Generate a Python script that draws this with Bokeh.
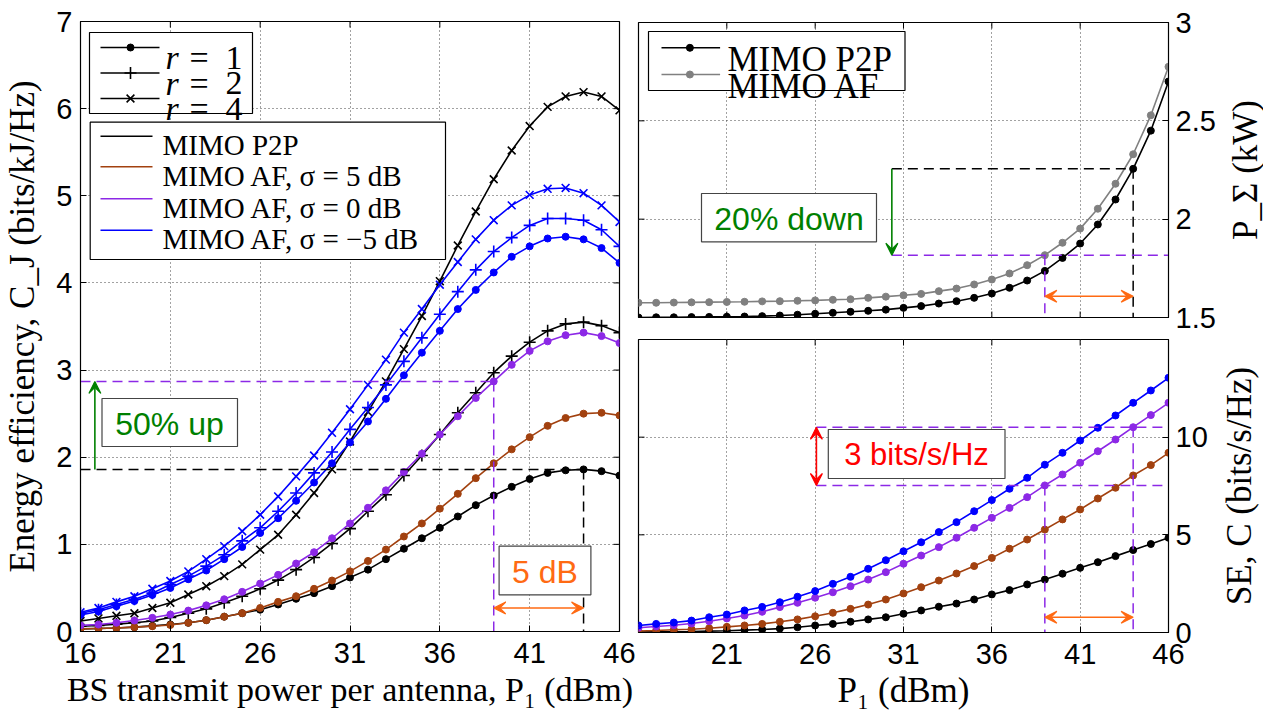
import math
from bokeh.plotting import figure
from bokeh.layouts import row, column
from bokeh.models import Range1d, FixedTicker, Label, Arrow, VeeHead
from bokeh.embed import file_html
from bokeh.resources import INLINE

# ---------------- data ----------------
P1_DBM = [16, 17, 18, 19, 20, 21, 22, 23, 24, 25, 26, 27, 28, 29, 30, 31,
          32, 33, 34, 35, 36, 37, 38, 39, 40, 41, 42, 43, 44, 45, 46]

# Energy efficiency (bits/kJ/Hz)
EE_P2P_R1 = [0.03, 0.035, 0.04, 0.05, 0.065, 0.08, 0.10, 0.13, 0.17, 0.21, 0.25, 0.31, 0.375, 0.44, 0.52, 0.62,
             0.71, 0.83, 0.95, 1.07, 1.19, 1.32, 1.45, 1.56, 1.66, 1.75, 1.82, 1.85, 1.86, 1.84, 1.79]
EE_P2P_R2 = [0.06, 0.07, 0.085, 0.10, 0.12, 0.16, 0.21, 0.26, 0.33, 0.405, 0.49, 0.59, 0.71, 0.85, 1.01, 1.18,
             1.38, 1.57, 1.79, 2.02, 2.26, 2.51, 2.74, 2.97, 3.16, 3.32, 3.45, 3.53, 3.55, 3.51, 3.43]
EE_P2P_R4 = [0.12, 0.15, 0.18, 0.21, 0.27, 0.33, 0.425, 0.52, 0.635, 0.77, 0.94, 1.11, 1.34, 1.59, 1.86, 2.18,
             2.52, 2.87, 3.24, 3.62, 4.02, 4.43, 4.82, 5.19, 5.52, 5.80, 6.02, 6.14, 6.19, 6.14, 5.98]
EE_AF_S5 = [0.03, 0.035, 0.04, 0.05, 0.06, 0.075, 0.10, 0.13, 0.17, 0.21, 0.27, 0.34, 0.405, 0.49, 0.585, 0.69,
            0.81, 0.94, 1.09, 1.24, 1.41, 1.58, 1.76, 1.93, 2.09, 2.23, 2.36, 2.45, 2.50, 2.51, 2.48]
EE_AF_S0 = [0.07, 0.08, 0.10, 0.126, 0.157, 0.195, 0.24, 0.30, 0.37, 0.455, 0.55, 0.65, 0.78, 0.91, 1.07, 1.24,
            1.42, 1.62, 1.83, 2.04, 2.26, 2.47, 2.68, 2.87, 3.06, 3.22, 3.33, 3.40, 3.43, 3.39, 3.31]
EE_AF_SM5_R1 = [0.19, 0.23, 0.29, 0.35, 0.42, 0.50, 0.60, 0.70, 0.83, 0.97, 1.13, 1.30, 1.50, 1.71, 1.93, 2.17,
                2.41, 2.67, 2.94, 3.20, 3.45, 3.70, 3.92, 4.12, 4.30, 4.42, 4.51, 4.53, 4.50, 4.40, 4.23]
EE_AF_SM5_R2 = [0.21, 0.25, 0.31, 0.37, 0.44, 0.54, 0.635, 0.75, 0.88, 1.04, 1.19, 1.38, 1.59, 1.82, 2.06, 2.32,
                2.57, 2.83, 3.10, 3.37, 3.64, 3.90, 4.15, 4.36, 4.52, 4.66, 4.74, 4.74, 4.72, 4.61, 4.42]
EE_AF_SM5_R4 = [0.22, 0.27, 0.34, 0.405, 0.49, 0.58, 0.69, 0.83, 0.98, 1.15, 1.34, 1.55, 1.78, 2.02, 2.28, 2.55,
                2.83, 3.12, 3.43, 3.70, 3.98, 4.24, 4.50, 4.72, 4.89, 5.01, 5.08, 5.09, 5.03, 4.89, 4.70]

# Total power P_Sigma (kW)
PW_P2P = [1.500, 1.501, 1.501, 1.502, 1.503, 1.504, 1.505, 1.507, 1.510, 1.514, 1.519, 1.524, 1.529, 1.534, 1.540, 1.549,
          1.558, 1.571, 1.583, 1.600, 1.622, 1.651, 1.688, 1.737, 1.803, 1.876, 1.973, 2.100, 2.256, 2.450, 2.700]
PW_AF = [1.575, 1.575, 1.576, 1.577, 1.578, 1.579, 1.580, 1.582, 1.583, 1.585, 1.587, 1.590, 1.593, 1.600, 1.606, 1.613,
         1.620, 1.634, 1.647, 1.668, 1.693, 1.724, 1.766, 1.817, 1.880, 1.952, 2.053, 2.180, 2.330, 2.528, 2.775]

# Spectral efficiency C (bits/s/Hz)
SE_P2P = [0.02, 0.03, 0.04, 0.05, 0.07, 0.09, 0.12, 0.15, 0.20, 0.27, 0.36, 0.44, 0.55, 0.67, 0.78, 0.96,
          1.13, 1.32, 1.48, 1.69, 1.95, 2.17, 2.46, 2.71, 3.01, 3.31, 3.60, 3.91, 4.22, 4.53, 4.85]
SE_AF_S5 = [0.08, 0.10, 0.14, 0.17, 0.22, 0.29, 0.36, 0.44, 0.55, 0.67, 0.83, 1.01, 1.21, 1.43, 1.69, 2.00,
            2.32, 2.66, 3.02, 3.40, 3.82, 4.29, 4.76, 5.27, 5.79, 6.30, 6.86, 7.41, 8.04, 8.57, 9.20]
SE_AF_S0 = [0.24, 0.31, 0.37, 0.46, 0.58, 0.72, 0.87, 1.06, 1.30, 1.52, 1.78, 2.06, 2.37, 2.71, 3.09, 3.52,
            3.94, 4.37, 4.85, 5.36, 5.87, 6.38, 6.93, 7.53, 8.09, 8.69, 9.28, 9.88, 10.51, 11.13, 11.76]
SE_AF_SM5 = [0.36, 0.44, 0.51, 0.61, 0.78, 0.92, 1.13, 1.31, 1.55, 1.83, 2.12, 2.49, 2.85, 3.26, 3.70, 4.16,
             4.62, 5.14, 5.65, 6.21, 6.78, 7.36, 7.92, 8.59, 9.20, 9.83, 10.48, 11.11, 11.76, 12.39, 13.04]

X_TICKS = [16, 21, 26, 31, 36, 41, 46]
X_TICKS_R = [21, 26, 31, 36, 41, 46]
EE_TICKS = [0, 1, 2, 3, 4, 5, 6, 7]
PW_TICKS = [1.5, 2, 2.5, 3]
SE_TICKS = [0, 5, 10]
SE_TICKS_ALL = [0, 5, 10, 15]

R_LABELS = ["1", "2", "4"]
MIMO_LABELS = ["MIMO P2P", "MIMO AF, σ = 5 dB", "MIMO AF, σ = 0 dB", "MIMO AF, σ = −5 dB"]
PW_LABELS = ["MIMO P2P", "MIMO AF"]

XLABEL_LEFT = "BS transmit power per antenna, P₁ (dBm)"
XLABEL_RIGHT = "P₁ (dBm)"
YLABEL_EE = "Energy efficiency, C_J (bits/kJ/Hz)"
YLABEL_PW = "P_Σ (kW)"
YLABEL_SE = "SE, C (bits/s/Hz)"

# ---------------- style ----------------
BLACK = "#000000"
BROWN = "#A2410F"
PURPLE = "#8C28E6"
BLUE = "#0000FF"
GRAY = "#808080"
GREEN = "#008000"
ORANGE = "#FF6A13"
RED = "#FF0000"
SERIF = "Liberation Serif"
SANS = "Liberation Sans"
LW = 1.6
DASH = "10 6"
TICK_PX = 6


class PxMap:
    def __init__(self, x0, x1, px0, px1, y0, y1, py0, py1):
        self.a = (x0, x1, px0, px1)
        self.b = (y0, y1, py0, py1)

    def x(self, px):
        x0, x1, p0, p1 = self.a
        return x0 + (px - p0) * (x1 - x0) / (p1 - p0)

    def y(self, py):
        y0, y1, p0, p1 = self.b
        return y0 + (py - p0) * (y1 - y0) / (p1 - p0)

    def dx(self, npx):
        x0, x1, p0, p1 = self.a
        return npx * (x1 - x0) / (p1 - p0)

    def dy(self, npx):
        y0, y1, p0, p1 = self.b
        return npx * abs((y1 - y0) / (p1 - p0))


def label(p, m, px, py, text, size, color=BLACK, font=SERIF, style="normal",
          align="left", baseline="alphabetic"):
    p.add_layout(Label(x=m.x(px), y=m.y(py), text=text, text_font=font,
                       text_font_size=f"{size}px", text_font_style=style, text_color=color,
                       text_align=align, text_baseline=baseline))


def style_axis(ax, ticks, standoff, overrides=None, label_size="35px"):
    ax.ticker = FixedTicker(ticks=ticks)
    ax.major_label_text_font = SANS
    ax.major_label_text_font_size = "29px"
    ax.major_label_text_color = BLACK
    ax.major_tick_in = TICK_PX
    ax.major_tick_out = 0
    ax.minor_tick_in = 0
    ax.minor_tick_out = 0
    ax.axis_line_color = BLACK
    ax.major_tick_line_color = BLACK
    ax.major_label_standoff = standoff
    ax.axis_label_text_font = SERIF
    ax.axis_label_text_font_size = label_size
    ax.axis_label_text_font_style = "normal"
    ax.axis_label_text_color = BLACK
    if overrides:
        ax.major_label_overrides = overrides


def mirror_ticks(p, m, xr, yr, xticks, yticks, sides):
    """Inward tick marks on the frame edges that carry no axis (MATLAB box style)."""
    x0s, y0s, x1s, y1s = [], [], [], []
    for t in xticks:
        if "top" in sides:
            x0s.append(t); y0s.append(yr[1]); x1s.append(t); y1s.append(yr[1] - m.dy(TICK_PX))
        if "bottom" in sides:
            x0s.append(t); y0s.append(yr[0]); x1s.append(t); y1s.append(yr[0] + m.dy(TICK_PX))
    for t in yticks:
        if "right" in sides:
            x0s.append(xr[1]); y0s.append(t); x1s.append(xr[1] - m.dx(TICK_PX)); y1s.append(t)
        if "left" in sides:
            x0s.append(xr[0]); y0s.append(t); x1s.append(xr[0] + m.dx(TICK_PX)); y1s.append(t)
    p.segment(x0=x0s, y0=y0s, x1=x1s, y1=y1s, line_color=BLACK, line_width=1)


def style_grid(g, ticks):
    g.ticker = FixedTicker(ticks=ticks)
    g.grid_line_color = "#444444"
    g.grid_line_dash = "1 3"
    g.grid_line_width = 1


def base_fig(xr, yr, fw, fh, **kw):
    p = figure(x_range=Range1d(*xr), y_range=Range1d(*yr), frame_width=fw, frame_height=fh,
               output_backend="svg", toolbar_location=None, title=None, **kw)
    p.outline_line_color = BLACK
    p.outline_line_width = 1.2
    p.background_fill_color = "white"
    p.border_fill_color = "white"
    return p


def label_strip(text, frame_h, top, bottom, border_left, standoff):
    """Narrow figure that only carries a y-axis title reading bottom-to-top."""
    p = figure(x_range=Range1d(0, 1), y_range=Range1d(0, 1), frame_width=1, frame_height=frame_h,
               min_border_left=border_left, min_border_right=0, min_border_top=top,
               min_border_bottom=bottom, x_axis_location=None, y_axis_location="left",
               output_backend="svg", toolbar_location=None, title=None)
    p.outline_line_color = None
    p.xgrid.visible = False
    p.ygrid.visible = False
    p.background_fill_color = "white"
    p.border_fill_color = "white"
    ax = p.yaxis[0]
    ax.ticker = FixedTicker(ticks=[])
    ax.major_tick_in = 0
    ax.major_tick_out = 0
    ax.minor_tick_in = 0
    ax.minor_tick_out = 0
    ax.major_label_standoff = 0
    ax.axis_line_color = None
    ax.axis_label = text
    ax.axis_label_standoff = standoff
    ax.axis_label_text_font = SERIF
    ax.axis_label_text_font_size = "35px"
    ax.axis_label_text_font_style = "normal"
    ax.axis_label_text_color = BLACK
    return p


def curve(p, x, y, color, marker, size):
    p.line(x, y, line_color=color, line_width=LW)
    if marker == "dot":
        p.scatter(x, y, marker="circle", size=size, fill_color=color, line_color=color)
    else:
        p.scatter(x, y, marker=marker, size=size, line_color=color, line_width=LW, fill_color=None)


def box(p, m, px0, px1, py0, py1, color="#444444"):
    p.quad(left=m.x(px0), right=m.x(px1), top=m.y(py0), bottom=m.y(py1),
           fill_color="white", line_color=color, line_width=1.2)


def arrow(p, x0, y0, x1, y1, color, both=False):
    kw = dict(end=VeeHead(size=12, line_color=color, fill_color=color, line_width=1.2))
    if both:
        kw["start"] = VeeHead(size=12, line_color=color, fill_color=color, line_width=1.2)
    else:
        kw["start"] = None
    p.add_layout(Arrow(x_start=x0, y_start=y0, x_end=x1, y_end=y1, line_color=color,
                       line_width=1.6, **kw))


i39 = P1_DBM.index(39)
i44 = P1_DBM.index(44)

# ================= left: energy efficiency =================
XR_L, YR_L = (16, 46), (0, 7)
L = base_fig(XR_L, YR_L, 539, 610, min_border_left=80, min_border_right=18,
             min_border_top=21, min_border_bottom=80)
mL = PxMap(16, 46, 81, 620, 0, 7, 632, 22)
style_axis(L.xaxis[0], X_TICKS, 11, label_size="34px")
style_axis(L.yaxis[0], EE_TICKS, 8)
L.xaxis[0].axis_label = XLABEL_LEFT
L.xaxis[0].axis_label_standoff = 5
L.yaxis[0].axis_label = YLABEL_EE
L.yaxis[0].axis_label_standoff = 11
style_grid(L.xgrid[0], X_TICKS)
style_grid(L.ygrid[0], EE_TICKS)
mirror_ticks(L, mL, XR_L, YR_L, X_TICKS, EE_TICKS, ("top", "right"))

curve(L, P1_DBM, EE_P2P_R1, BLACK, "dot", 7)
curve(L, P1_DBM, EE_P2P_R2, BLACK, "cross", 12)
curve(L, P1_DBM, EE_P2P_R4, BLACK, "x", 11)
curve(L, P1_DBM, EE_AF_S5, BROWN, "dot", 7)
curve(L, P1_DBM, EE_AF_S0, PURPLE, "dot", 7)
curve(L, P1_DBM, EE_AF_SM5_R1, BLUE, "dot", 7)
curve(L, P1_DBM, EE_AF_SM5_R2, BLUE, "cross", 12)
curve(L, P1_DBM, EE_AF_SM5_R4, BLUE, "x", 11)

# reference lines
ipk = EE_P2P_R1.index(max(EE_P2P_R1))
x_pk, y_pk = P1_DBM[ipk], EE_P2P_R1[ipk]
x_af, y_af = P1_DBM[i39], EE_AF_S0[i39]
L.line([16, x_pk], [y_pk, y_pk], line_color=BLACK, line_width=1.5, line_dash=DASH)
L.line([x_pk, x_pk], [y_pk, 0], line_color=BLACK, line_width=1.5, line_dash=DASH)
L.line([16, x_af], [y_af, y_af], line_color=PURPLE, line_width=1.5, line_dash=DASH)
L.line([x_af, x_af], [y_af, 0], line_color=PURPLE, line_width=1.5, line_dash=DASH)
arrow(L, 16.8, y_pk, 16.8, y_af, GREEN)
arrow(L, x_af, 0.27, x_pk, 0.27, ORANGE, both=True)
box(L, mL, 102.5, 238, 399, 447)
label(L, mL, 170, 424, "50% up", 32, color=GREEN, font=SANS, align="center", baseline="middle")
box(L, mL, 499.6, 591.4, 546.7, 595.3)
label(L, mL, 545.5, 572, "5 dB", 32, color=ORANGE, font=SANS, align="center", baseline="middle")

# legend: r markers
box(L, mL, 90, 253, 33, 114, color=BLACK)
for (lab_txt, mk, sz), ry in zip(zip(R_LABELS, ["dot", "cross", "x"], [7, 12, 11]), [48, 73.5, 99]):
    L.line([mL.x(101), mL.x(160)], [mL.y(ry), mL.y(ry)], line_color=BLACK, line_width=LW)
    if mk == "dot":
        L.scatter([mL.x(131)], [mL.y(ry)], marker="circle", size=sz, fill_color=BLACK, line_color=BLACK)
    else:
        L.scatter([mL.x(131)], [mL.y(ry)], marker=mk, size=sz, line_color=BLACK, line_width=LW)
    label(L, mL, 166, ry + 10, "r", 34, style="italic")
    label(L, mL, 190, ry + 10, "=", 34)
    label(L, mL, 226, ry + 10, lab_txt, 34)

# legend: schemes
box(L, mL, 90.7, 446, 122.7, 260, color=BLACK)
for txt, col, ry in zip(MIMO_LABELS, [BLACK, BROWN, PURPLE, BLUE], [136.7, 167.3, 199.3, 230.7]):
    L.line([mL.x(101), mL.x(153)], [mL.y(ry), mL.y(ry)], line_color=col, line_width=LW)
    label(L, mL, 163, ry + 9, txt, 29)

# ================= top right: total power =================
XR_T, YR_T = (16, 46), (1.5, 3)
TR = base_fig(XR_T, YR_T, 530, 295, min_border_left=1, min_border_right=48,
              min_border_top=22, min_border_bottom=18, x_axis_location=None, y_axis_location="right")
mT = PxMap(16, 46, 639, 1169, 1.5, 3, 318, 23)
style_axis(TR.yaxis[0], PW_TICKS, 7, {1.5: "1.5", 2: "2", 2.5: "2.5", 3: "3"})
style_grid(TR.xgrid[0], X_TICKS)
style_grid(TR.ygrid[0], PW_TICKS)
mirror_ticks(TR, mT, XR_T, YR_T, X_TICKS, PW_TICKS, ("top", "bottom", "left"))

curve(TR, P1_DBM, PW_AF, GRAY, "dot", 7)
curve(TR, P1_DBM, PW_P2P, BLACK, "dot", 7)

y_b = PW_P2P[i44]
y_g = PW_AF[i39]
x_arrow = 30.34
TR.line([x_arrow, P1_DBM[i44]], [y_b, y_b], line_color=BLACK, line_width=1.5, line_dash=DASH)
TR.line([P1_DBM[i44], P1_DBM[i44]], [y_b, 1.5], line_color=BLACK, line_width=1.5, line_dash=DASH)
TR.line([x_arrow, 46], [y_g, y_g], line_color=PURPLE, line_width=1.5, line_dash=DASH)
TR.line([P1_DBM[i39], P1_DBM[i39]], [y_g, 1.5], line_color=PURPLE, line_width=1.5, line_dash=DASH)
arrow(TR, x_arrow, y_b, x_arrow, y_g, GREEN)
arrow(TR, P1_DBM[i39], 1.608, P1_DBM[i44], 1.608, ORANGE, both=True)
box(TR, mT, 702, 877, 194, 242.3)
label(TR, mT, 789.5, 219, "20% down", 32, color=GREEN, font=SANS, align="center", baseline="middle")

box(TR, mT, 649, 905.5, 32, 91, color=BLACK)
for txt, col, ry in zip(PW_LABELS, [BLACK, GRAY], [48.3, 75]):
    TR.line([mT.x(662), mT.x(720.6)], [mT.y(ry), mT.y(ry)], line_color=col, line_width=LW)
    TR.scatter([mT.x(690.4)], [mT.y(ry)], marker="circle", size=7, fill_color=col, line_color=col)
    label(TR, mT, 728, ry + 12, txt, 35)

TRL = label_strip(YLABEL_PW, 295, 22, 18, 44, -2)

# ================= bottom right: spectral efficiency =================
XR_B, YR_B = (16, 46), (0, 15)
BR = base_fig(XR_B, YR_B, 530, 293, min_border_left=1, min_border_right=48,
              min_border_top=4, min_border_bottom=79, y_axis_location="right")
mB = PxMap(16, 46, 639, 1169, 0, 15, 633, 340)
style_axis(BR.xaxis[0], X_TICKS_R, 11)
style_axis(BR.yaxis[0], SE_TICKS, 7)
BR.yaxis[0].ticker = FixedTicker(ticks=SE_TICKS_ALL)
BR.yaxis[0].major_label_overrides = {15: ""}
BR.xaxis[0].axis_label = XLABEL_RIGHT
BR.xaxis[0].axis_label_standoff = 4
style_grid(BR.xgrid[0], X_TICKS)
style_grid(BR.ygrid[0], SE_TICKS_ALL)
mirror_ticks(BR, mB, XR_B, YR_B, X_TICKS, SE_TICKS_ALL, ("top", "left"))

curve(BR, P1_DBM, SE_P2P, BLACK, "dot", 7)
curve(BR, P1_DBM, SE_AF_S5, BROWN, "dot", 7)
curve(BR, P1_DBM, SE_AF_S0, PURPLE, "dot", 7)
curve(BR, P1_DBM, SE_AF_SM5, BLUE, "dot", 7)

y_u = SE_AF_S0[i44]
y_l = SE_AF_S0[i39]
x_red = 26.07
BR.line([x_red, 46], [y_u, y_u], line_color=PURPLE, line_width=1.5, line_dash=DASH)
BR.line([x_red, 46], [y_l, y_l], line_color=PURPLE, line_width=1.5, line_dash=DASH)
BR.line([P1_DBM[i39], P1_DBM[i39]], [y_l, 0], line_color=PURPLE, line_width=1.5, line_dash=DASH)
BR.line([P1_DBM[i44], P1_DBM[i44]], [y_u, 0], line_color=PURPLE, line_width=1.5, line_dash=DASH)
arrow(BR, x_red, y_l, x_red, y_u, RED, both=True)
arrow(BR, P1_DBM[i39], 0.78, P1_DBM[i44], 0.78, ORANGE, both=True)
box(BR, mB, 828.8, 1005.5, 430, 479)
label(BR, mB, 917, 455, "3 bits/s/Hz", 31, color=RED, font=SANS, align="center", baseline="middle")

BRL = label_strip(YLABEL_SE, 293, 4, 79, 44, 3)

layout = row(L, column(row(TR, TRL, spacing=0), row(BR, BRL, spacing=0), spacing=0), spacing=0)
open("out.html", "w").write(file_html(layout, INLINE))
